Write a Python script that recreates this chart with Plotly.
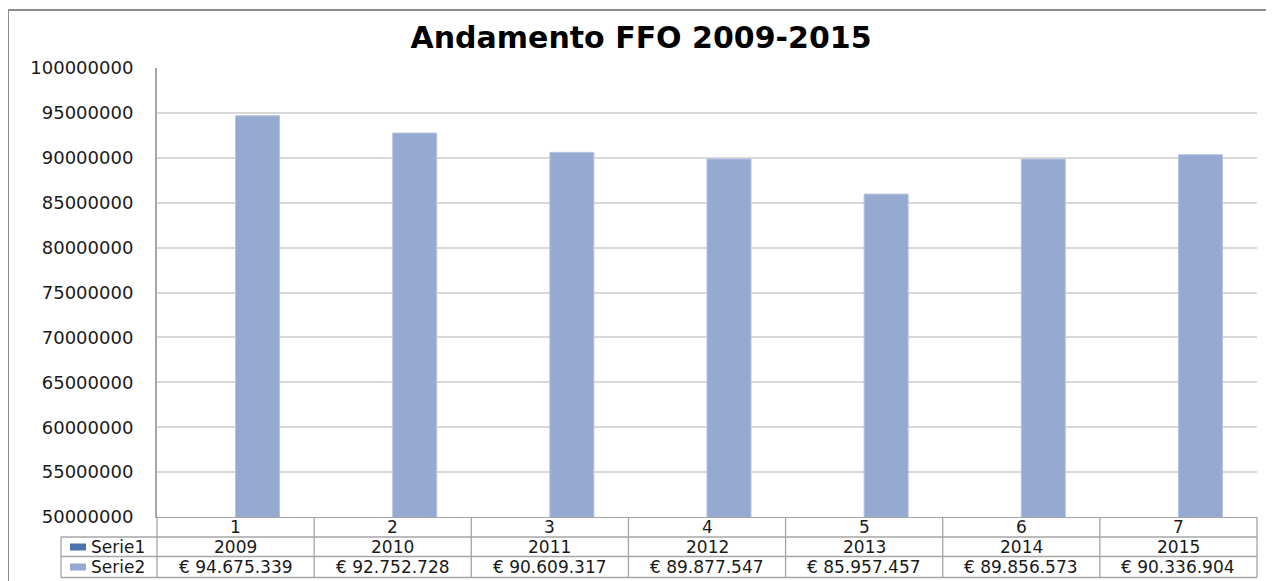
import plotly.graph_objects as go

# ---- data ----
categories = [1, 2, 3, 4, 5, 6, 7]
serie1_name = "Serie1"
serie2_name = "Serie2"
serie1 = [2009, 2010, 2011, 2012, 2013, 2014, 2015]
serie2 = [94675339, 92752728, 90609317, 89877547, 85957457, 89856573, 90336904]
serie2_labels = ["€ 94.675.339", "€ 92.752.728", "€ 90.609.317", "€ 89.877.547",
                 "€ 85.957.457", "€ 89.856.573", "€ 90.336.904"]
title_text = "Andamento FFO 2009-2015"
y_min, y_max, y_step = 50000000, 100000000, 5000000

# ---- geometry (page pixels; the page body adds an 8px offset) ----
OFF = 8
W, H = 1274 - OFF, 581 - OFF
PL, PR, PT, PB = 157, 1257, 68, 517
FONT = "DejaVu Sans"
C1 = "#4A73AD"
C2 = "#95A9D1"
GRID = "#D9D9D9"
TBL = "#A6A6A6"


def px(xp):
    return (xp - PL) / (PR - PL)


def py(yp):
    return (PB - yp) / (PB - PT)


fig = go.Figure()
fig.add_trace(go.Bar(x=categories, y=serie1, name=serie1_name, marker_color=C1))
fig.add_trace(go.Bar(x=categories, y=serie2, name=serie2_name, marker_color=C2,
                     marker_line=dict(color="#B3C3E0", width=1)))

n = len(categories)
x0r, x1r = categories[0] - 0.5, categories[-1] + 0.5


def catx(v):
    return (v - x0r) / (x1r - x0r)


shapes = []
line_style = dict(color=TBL, width=1.3)
row_y = [517, 537, 556.5, 577.5]
for yy in row_y[1:]:
    shapes.append(dict(type="line", xref="paper", yref="paper", x0=px(61), x1=1,
                       y0=py(yy), y1=py(yy), line=line_style))
for k in range(n + 1):
    xv = catx(x0r + k)
    shapes.append(dict(type="line", xref="paper", yref="paper", x0=xv, x1=xv,
                       y0=py(517), y1=py(577.5), line=line_style))
shapes.append(dict(type="line", xref="paper", yref="paper", x0=px(61), x1=px(61),
                   y0=py(537), y1=py(577.5), line=line_style))
for col, yc in [(C1, 547), (C2, 567)]:
    shapes.append(dict(type="rect", xref="paper", yref="paper", x0=px(70), x1=px(86),
                       y0=py(yc + 3.5), y1=py(yc - 3.5), fillcolor=col, line_width=0))
# outer chart border
shapes.append(dict(type="line", xref="paper", yref="paper", x0=px(8), x1=px(1274 + 10),
                   y0=py(10), y1=py(10), line=dict(color="#8C8C8C", width=2)))
shapes.append(dict(type="line", xref="paper", yref="paper", x0=px(8), x1=px(8),
                   y0=py(10), y1=py(590), line=dict(color="#8C8C8C", width=2)))

annotations = []
tf = dict(family=FONT, size=17, color="#1a1a1a")
for i, c in enumerate(categories):
    annotations.append(dict(x=c, y=py(527), xref="x", yref="paper", text=str(c),
                            showarrow=False, font=tf, xanchor="center", yanchor="middle"))
    annotations.append(dict(x=c, y=py(547), xref="x", yref="paper", text=str(serie1[i]),
                            showarrow=False, font=tf, xanchor="center", yanchor="middle"))
    annotations.append(dict(x=c, y=py(567), xref="x", yref="paper", text=serie2_labels[i],
                            showarrow=False, font=tf, xanchor="center", yanchor="middle"))
for name, yc in [(serie1_name, 547), (serie2_name, 567)]:
    annotations.append(dict(x=px(89), y=py(yc), xref="paper", yref="paper", text=name,
                            showarrow=False, font=tf, xanchor="left", yanchor="middle"))

fig.update_layout(
    width=W, height=H,
    margin=dict(l=PL - OFF, r=1274 - PR, t=PT - OFF, b=581 - PB, pad=0),
    paper_bgcolor="white", plot_bgcolor="white",
    barmode="group", bargap=0.44, bargroupgap=0,
    showlegend=False,
    title=dict(text="<b>" + title_text + "</b>", x=(641 - OFF) / W, xref="container",
               y=1 - (37 - OFF) / H, yref="container", xanchor="center", yanchor="middle",
               font=dict(family=FONT, size=30, color="#000000")),
    xaxis=dict(range=[x0r, x1r], showticklabels=False, showgrid=False, zeroline=False,
               showline=True, linecolor=TBL, linewidth=1.3, ticks=""),
    yaxis=dict(range=[y_min, y_max], dtick=y_step, tick0=y_min, tickformat="d",
               showgrid=True, gridcolor=GRID, gridwidth=2, zeroline=False,
               showline=True, linecolor="#A6A6A6", linewidth=2, ticks="",
               ticklabelstandoff=18,
               tickfont=dict(family=FONT, size=18, color="#1a1a1a")),
    shapes=shapes,
    annotations=annotations,
)

fig.write_html("out.html")
